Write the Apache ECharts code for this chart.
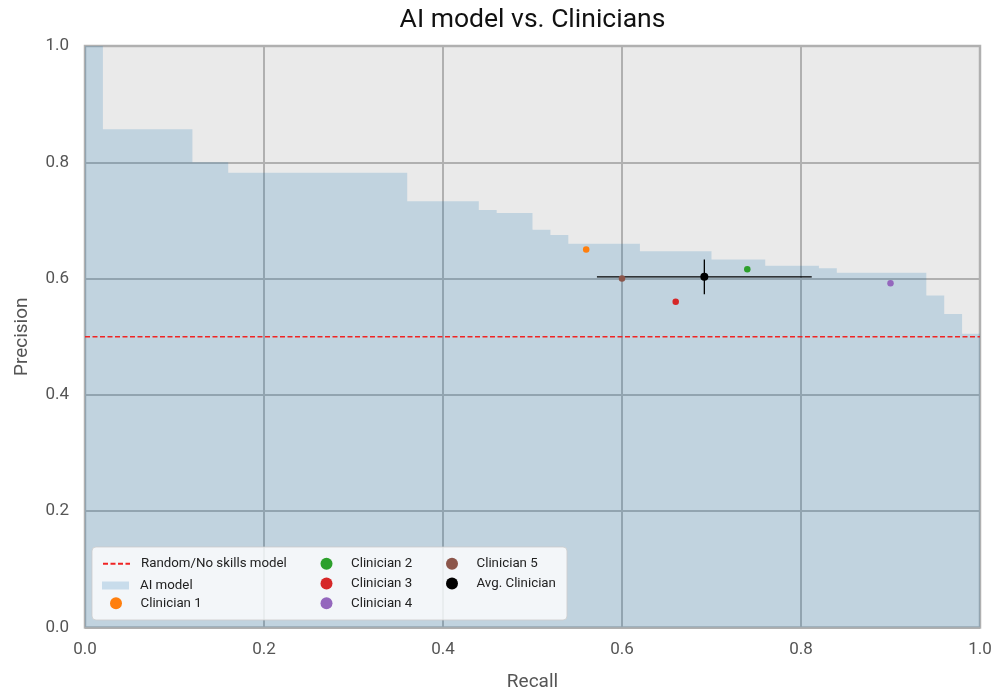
<!DOCTYPE html>
<html>
<head>
<meta charset="utf-8">
<script src="https://cdn.jsdelivr.net/npm/echarts@6/dist/echarts.min.js"></script>
<style>html,body{margin:0;padding:0;background:#fff}#c{width:1008px;height:692px}</style>
</head>
<body>
<div id="c"></div>
<script>
// ---- data ----
const prRecall    = [0, 0.02, 0.12, 0.16, 0.36, 0.44, 0.46, 0.50, 0.52, 0.54, 0.62, 0.70, 0.76, 0.82, 0.84, 0.94, 0.96, 0.98, 1.0];
const prPrecision = [1.0, 0.857, 0.80, 0.782, 0.733, 0.718, 0.713, 0.684, 0.675, 0.660, 0.647, 0.633, 0.622, 0.618, 0.610, 0.571, 0.539, 0.505, 0.505];
const clinicianNames     = ['Clinician 1', 'Clinician 2', 'Clinician 3', 'Clinician 4', 'Clinician 5'];
const clinicianRecall    = [0.56, 0.74, 0.66, 0.90, 0.60];
const clinicianPrecision = [0.65, 0.616, 0.56, 0.592, 0.60];
const clinicianColors    = ['#ff7f0e', '#2ca02c', '#d62728', '#9467bd', '#8c564b'];
const avgRecall = 0.692, avgPrecision = 0.603;
const avgRecallErr = 0.12, avgPrecisionErr = 0.03;
const baselinePrecision = 0.5;
const axisTicks = [0, 0.2, 0.4, 0.6, 0.8, 1.0];

const FONT = 'Roboto';
const aiFill = 'rgba(31,119,180,0.2)';

const chart = echarts.init(document.getElementById('c'), null, {renderer: 'canvas'});

const series = [
  {
    name: 'Random/No skills model', type: 'line', symbol: 'none', silent: true, z: 4,
    data: [[axisTicks[0], baselinePrecision], [axisTicks[axisTicks.length - 1], baselinePrecision]],
    lineStyle: {color: '#f02424', width: 1.3, type: [5, 2.5]},
    itemStyle: {color: 'rgba(0,0,0,0)'}
  },
  {
    name: 'AI model', type: 'line', step: 'end', symbol: 'none', silent: true, z: 2,
    data: prRecall.map((r, i) => [r, prPrecision[i]]),
    lineStyle: {width: 0, color: aiFill},
    itemStyle: {color: aiFill},
    areaStyle: {color: aiFill, opacity: 1}
  },
  {
    name: '_errx', type: 'line', symbol: 'none', silent: true, z: 5,
    data: [[avgRecall - avgRecallErr, avgPrecision], [avgRecall + avgRecallErr, avgPrecision]],
    lineStyle: {color: '#000', width: 1.3}
  },
  {
    name: '_erry', type: 'line', symbol: 'none', silent: true, z: 5,
    data: [[avgRecall, avgPrecision - avgPrecisionErr], [avgRecall, avgPrecision + avgPrecisionErr]],
    lineStyle: {color: '#000', width: 1.3}
  }
];
clinicianNames.forEach((n, i) => {
  series.push({
    name: n, type: 'scatter', symbol: 'circle', symbolSize: 6.5, z: 6, silent: true,
    data: [[clinicianRecall[i], clinicianPrecision[i]]],
    itemStyle: {color: clinicianColors[i], opacity: 1}
  });
});
series.push({
  name: 'Avg. Clinician', type: 'scatter', symbol: 'circle', symbolSize: 8, z: 7, silent: true,
  data: [[avgRecall, avgPrecision]],
  itemStyle: {color: '#000', opacity: 1}
});

// legend layout (matplotlib-like 3 columns)
const legendItems = [
  {name: 'Random/No skills model', col: 0, row: 0, dx: 0},
  {name: 'AI model', col: 0, row: 1, icon: 'rect', h: 8, color: aiFill, dx: 0},
  {name: 'Clinician 1', col: 0, row: 2, icon: 'circle', dx: 8},
  {name: 'Clinician 2', col: 1, row: 0, icon: 'circle', dx: 8},
  {name: 'Clinician 3', col: 1, row: 1, icon: 'circle', dx: 8},
  {name: 'Clinician 4', col: 1, row: 2, icon: 'circle', dx: 8},
  {name: 'Clinician 5', col: 2, row: 0, icon: 'circle', dx: 8},
  {name: 'Avg. Clinician', col: 2, row: 1, icon: 'circle', dx: 8}
];
const colLeft = [102, 312.5, 438];
const rowCenter = [563.3, 583, 602.7];
const legends = legendItems.map(it => {
  const h = it.h || 12;
  const d = {name: it.name};
  if (it.icon) d.icon = it.icon;
  if (it.color) d.itemStyle = {color: it.color};
  return {
    orient: 'vertical', left: colLeft[it.col] + it.dx, top: rowCenter[it.row] - h / 2,
    padding: 0, itemWidth: 27, itemHeight: h, selectedMode: false, z: 20,
    data: [d],
    textStyle: {fontFamily: FONT, fontSize: 13.3, color: '#222', padding: [0, 0, 0, 6]}
  };
});

const option = {
  animation: false,
  backgroundColor: '#fff',
  title: {
    text: 'AI model vs. Clinicians', left: 532.5, top: 7, textAlign: 'center', padding: 0,
    textStyle: {fontFamily: FONT, fontSize: 26.5, fontWeight: 'normal', color: '#111'}
  },
  grid: {
    left: 85, right: 28, top: 46, bottom: 64.5, show: true, containLabel: false,
    outerBoundsMode: 'none',
    backgroundColor: '#eaeaea', borderColor: '#b4b4b4', borderWidth: 2.5
  },
  xAxis: {
    type: 'value', min: axisTicks[0], max: axisTicks[axisTicks.length - 1], interval: 0.2,
    name: 'Recall', nameLocation: 'middle', nameGap: 45,
    nameTextStyle: {fontFamily: FONT, fontSize: 19, color: '#555'},
    axisLine: {show: false}, axisTick: {show: false},
    axisLabel: {fontFamily: FONT, fontSize: 17, color: '#555', margin: 14, formatter: v => v.toFixed(1)},
    splitLine: {show: true, lineStyle: {color: '#b0b0b0', width: 2}}
  },
  yAxis: {
    type: 'value', min: axisTicks[0], max: axisTicks[axisTicks.length - 1], interval: 0.2,
    name: 'Precision', nameLocation: 'middle', nameGap: 53,
    nameTextStyle: {fontFamily: FONT, fontSize: 19, color: '#555'},
    axisLine: {show: false}, axisTick: {show: false},
    axisLabel: {fontFamily: FONT, fontSize: 17, color: '#555', margin: 16, formatter: v => v.toFixed(1)},
    splitLine: {show: true, lineStyle: {color: '#b0b0b0', width: 2}}
  },
  legend: legends,
  graphic: [{
    type: 'rect', z: 15, silent: true,
    shape: {x: 92, y: 547, width: 475, height: 73, r: 4},
    style: {fill: 'rgba(255,255,255,0.8)', stroke: 'rgba(204,204,204,0.8)', lineWidth: 1}
  }],
  series: series
};
chart.setOption(option);
</script>
</body>
</html>
